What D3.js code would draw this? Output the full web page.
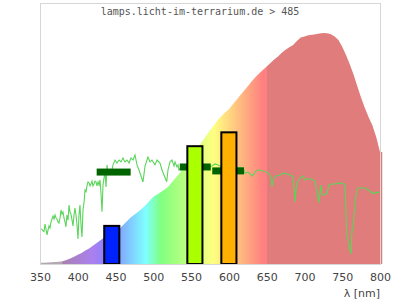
<!DOCTYPE html>
<html>
<head>
<meta charset="utf-8">
<script src="https://cdn.jsdelivr.net/npm/d3@7"></script>
<style>
  body { margin: 0; background: #fff; }
  svg { display: block; }
</style>
</head>
<body>
<svg id="chart" width="400" height="300"></svg>
<script>
// lamp spectrum, relative intensity every 5 nm starting at 350 nm
const spectrumStart = 350;
const spectrumStep = 5;
const spectrumValues = [
  0.5, 0.5, 0.6, 0.8, 0.9, 1.0, 1.2, 1.7, 2.4, 3.1,
  4.0, 4.8, 5.8, 6.7, 7.9, 9.1, 10.3, 11.5, 12.4, 13.2,
  14.2, 15.3, 16.9, 18.5, 20.1, 21.4, 22.6, 24.0, 25.5, 27.4,
  29.1, 30.1, 31.2, 32.3, 33.6, 35.5, 37.4, 39.4, 41.5, 43.5,
  45.8, 48.2, 50.8, 53.3, 55.5, 57.8, 60.0, 62.2, 64.0, 65.6,
  67.0, 69.0, 71.0, 73.0, 75.0, 77.0, 79.0, 80.8, 82.5, 84.0,
  85.5, 87.0, 88.5, 89.8, 91.5, 92.7, 93.8, 94.8, 96.5, 98.0,
  98.5, 99.0, 99.2, 99.5, 99.8, 100, 99.9, 99.5, 98.5, 97.0,
  94.0, 90.5, 86.5, 82.0, 77.0, 72.0, 67.5, 63.5, 60.0, 55.0,
  48.5
];
const spectrumEnd = 803; // fill runs a little past the frame

// measured curve (green line): wavelength / relative value
const curveWl = [
  351.7, 355.3, 356.6, 357.9, 359.3, 360.6, 361.9, 363.2, 364.6, 367.2,
  368.5, 369.9, 371.2, 372.5, 373.8, 375.1, 376.5, 377.8, 379.1, 380.4,
  381.8, 383.1, 384.4, 385.7, 387.1, 388.4, 389.7, 391.0, 392.4, 393.7,
  395.0, 396.3, 397.6, 399.0, 400.3, 401.6, 402.9, 404.3, 405.6, 406.9,
  408.2, 409.6, 410.9, 412.2, 413.5, 414.9, 416.2, 417.5, 418.8, 420.1,
  421.5, 422.8, 424.1, 425.4, 426.8, 428.1, 429.4, 430.7, 432.1, 433.4,
  434.7, 436.0, 437.4, 438.7, 440.0, 442.6, 445.3, 446.6, 449.3, 451.9,
  454.6, 457.2, 459.8, 462.5, 465.1, 467.8, 470.4, 473.1, 475.7, 478.4,
  481.0, 483.7, 486.3, 489.0, 492.9, 495.6, 498.2, 502.2, 504.9, 508.8,
  511.5, 514.1, 517.7, 519.4, 522.1, 524.7, 527.4, 528.7, 531.3, 532.6,
  534.0, 536.6, 548.5, 561.8, 569.7, 577.6, 581.6, 585.6, 590.9, 604.1,
  614.7, 618.7, 621.3, 625.3, 628.0, 630.6, 633.3, 634.6, 638.6, 641.2,
  645.1, 647.8, 651.8, 654.4, 655.8, 657.1, 658.4, 659.7, 662.4, 667.6,
  671.6, 676.9, 680.9, 684.8, 686.2, 687.5, 688.8, 690.1, 694.1, 698.1,
  700.7, 703.4, 710.0, 714.0, 716.6, 718.9, 720.6, 721.9, 723.2, 725.9,
  729.9, 732.5, 736.5, 740.4, 747.1, 752.3, 753.7, 755.0, 756.3, 757.6,
  759.0, 760.3, 761.6, 762.9, 764.3, 765.6, 766.9, 769.2, 770.9, 780.1,
  786.8, 789.4, 793.4, 797.3, 800.0
];
const curveVal = [
  15.2, 14.0, 17.3, 15.2, 12.6, 14.7, 16.5, 15.6, 18.2, 20.8,
  19.5, 21.2, 19.9, 19.5, 18.2, 17.7, 19.9, 23.4, 21.6, 22.5,
  19.9, 18.2, 16.1, 21.2, 19.0, 25.5, 22.5, 21.6, 19.0, 16.5,
  21.2, 24.2, 21.2, 16.9, 10.8, 21.2, 25.5, 16.9, 11.7, 23.4,
  26.4, 32.0, 31.3, 33.8, 35.5, 35.1, 33.8, 34.6, 35.9, 33.8,
  34.6, 35.9, 35.6, 33.8, 35.5, 34.2, 36.4, 30.7, 22.6, 34.2,
  37.2, 39.8, 33.3, 42.9, 38.5, 40.7, 40.7, 42.9, 45.0, 43.7,
  45.0, 44.2, 45.9, 44.2, 45.0, 43.7, 45.9, 45.0, 47.2, 42.9,
  40.7, 38.1, 35.5, 42.4, 46.3, 44.2, 45.0, 42.9, 45.0, 43.7,
  40.7, 38.5, 35.6, 40.7, 44.2, 45.0, 42.4, 44.2, 42.0, 42.9,
  40.7, 41.6, 41.6, 42.0, 42.0, 42.4, 43.3, 42.9, 42.0, 41.6,
  41.6, 41.6, 39.3, 39.8, 39.0, 38.1, 39.0, 40.0, 40.7, 40.7,
  40.3, 40.0, 39.4, 38.5, 37.2, 33.5, 35.5, 37.2, 38.1, 38.5,
  39.4, 39.0, 38.5, 37.8, 33.5, 27.0, 32.0, 35.1, 37.2, 38.1,
  36.4, 36.8, 36.8, 35.9, 31.3, 26.4, 31.3, 34.2, 29.9, 29.9,
  30.7, 34.2, 34.6, 34.6, 35.1, 34.6, 34.2, 21.2, 11.8, 10.4,
  8.2, 6.1, 4.3, 14.7, 14.7, 21.2, 26.4, 32.0, 32.9, 32.9,
  31.6, 30.7, 30.7, 31.2, 30.7
];

// horizontal reference marks
const markFrom = [425, 535, 578];
const markTo = [470, 576, 620];
const markVal = [39.8, 42.0, 40.3];

// colour bars
const barFrom = [435, 545, 590];
const barTo = [455, 565, 610];
const barVal = [16.5, 51.0, 57.0];
const barColors = ["#0022ff", "#aaff00", "#ffb000"];

// colour stops of the spectrum fill
const colorStopWl = [350, 379, 380, 420, 440, 465, 490, 510, 545, 580, 612, 645, 650, 650, 805];
const colorStopCol = ["#b2a8b2", "#b2a8b2", "#a880b0", "#aa80f0", "#8880ff", "#80bfff", "#80ffff", "#80ff80",
  "#c0ff80", "#ffff80", "#ffc080", "#ff8080", "#ff8080", "#e07c7c", "#e07c7c"];

const xTicks = [350, 400, 450, 500, 550, 600, 650, 700, 750, 800];
const title = "lamps.licht-im-terrarium.de > 485";

const svg = d3.select("#chart");
const x = d3.scaleLinear().domain([350, 800]).range([40, 380]);
const y = d3.scaleLinear().domain([0, 100]).range([264, 33]);

// gradient for the spectrum
const grad = svg.append("defs").append("linearGradient")
  .attr("id", "spec")
  .attr("gradientUnits", "userSpaceOnUse")
  .attr("x1", x(350)).attr("x2", x(805))
  .attr("y1", 0).attr("y2", 0);
grad.selectAll("stop")
  .data(colorStopWl)
  .enter()
  .append("stop")
  .attr("offset", d => (d - 350) / 455)
  .attr("stop-color", (d, i) => colorStopCol[i]);

const spectrum = spectrumValues.map((v, i) => ({wl: spectrumStart + i * spectrumStep, v: v}));
spectrum.push({wl: spectrumEnd, v: spectrumValues[spectrumValues.length - 1]});

const area = d3.area()
  .x(d => x(d.wl))
  .y0(y(0))
  .y1(d => y(d.v));
svg.append("path")
  .datum(spectrum)
  .attr("d", area)
  .attr("fill", "url(#spec)");

// measured green curve
const curve = curveWl.map((w, i) => ({wl: w, v: curveVal[i]}));
svg.append("path")
  .datum(curve)
  .attr("d", d3.line().x(d => x(d.wl)).y(d => y(d.v)))
  .attr("fill", "none")
  .attr("stroke", "#5ad55a")
  .attr("stroke-width", 1.1);

// dark green marks
svg.selectAll(".mark")
  .data(markVal)
  .enter()
  .append("rect")
  .attr("class", "mark")
  .attr("x", (d, i) => x(markFrom[i]))
  .attr("width", (d, i) => x(markTo[i]) - x(markFrom[i]))
  .attr("y", d => y(d) - 3.5)
  .attr("height", 7)
  .attr("fill", "#006400");

// colour bars
svg.selectAll(".bar")
  .data(barVal)
  .enter()
  .append("rect")
  .attr("class", "bar")
  .attr("x", (d, i) => x(barFrom[i]))
  .attr("width", (d, i) => x(barTo[i]) - x(barFrom[i]))
  .attr("y", d => y(d))
  .attr("height", d => y(0) - y(d))
  .attr("fill", (d, i) => barColors[i])
  .attr("stroke", "#000")
  .attr("stroke-width", 2);

// frame
svg.append("rect")
  .attr("x", 40.5).attr("y", 3.5)
  .attr("width", 340).attr("height", 261)
  .attr("fill", "none")
  .attr("stroke", "#d6d6d6")
  .attr("stroke-width", 1);

// axis labels
const xAxis = d3.axisBottom(x).tickValues(xTicks).tickSize(0).tickPadding(9);
const gx = svg.append("g").attr("transform", "translate(0,264)").call(xAxis);
gx.select(".domain").remove();
gx.selectAll("text")
  .attr("font-family", "DejaVu Sans, sans-serif")
  .attr("font-size", 11)
  .attr("fill", "#444");

svg.append("text")
  .attr("x", 380).attr("y", 297)
  .attr("text-anchor", "end")
  .attr("font-family", "DejaVu Sans, sans-serif")
  .attr("font-size", 11)
  .attr("fill", "#444")
  .text("λ [nm]");

svg.append("text")
  .attr("x", 200).attr("y", 15)
  .attr("text-anchor", "middle")
  .attr("font-family", "DejaVu Sans Mono, monospace")
  .attr("font-size", 10)
  .attr("fill", "#555")
  .text(title);
</script>
</body>
</html>
